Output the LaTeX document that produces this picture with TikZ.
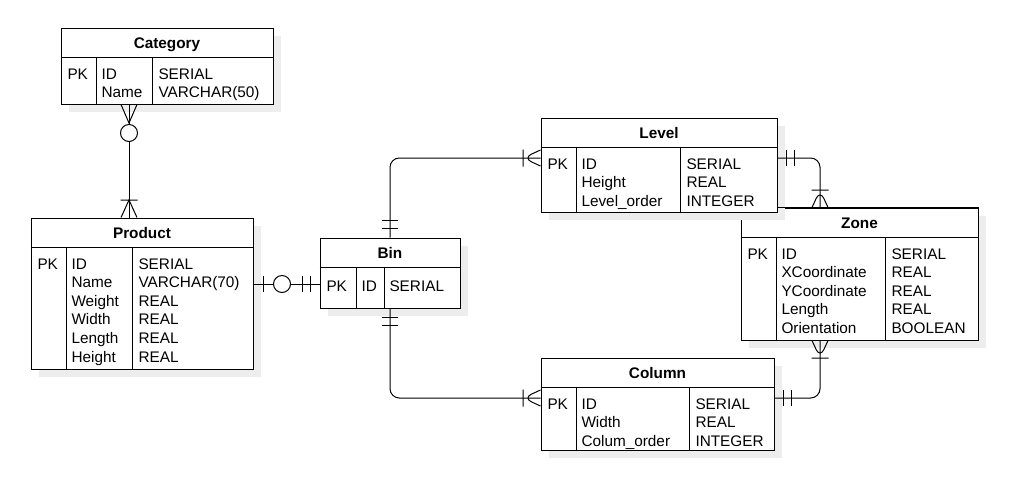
\documentclass[tikz,border=0pt]{standalone}
\usepackage{fontspec}
\setmainfont{Liberation Sans}
\usetikzlibrary{positioning}
\usetikzlibrary{fit}
\usetikzlibrary{shadows}
\usetikzlibrary{decorations.markings}
\tikzstyle{table}=[draw, fill=white, inner sep=0pt, drop shadow={shadow xshift=6pt, shadow yshift=-6pt, fill=black!7, opacity=1}]
\tikzstyle{title}=[font=\fontsize{11.5pt}{14pt}\selectfont\bfseries, anchor=base, inner sep=0pt]
\tikzstyle{field}=[anchor=base west, inner sep=0pt]
\tikzset{
  onlyone/.style 2 args={postaction={decorate, decoration={markings, mark=at position #1 with {
    \draw (#2*9,-8) -- (#2*9,8) (#2*17,-8) -- (#2*17,8);}}}},
  zeroone/.style 2 args={postaction={decorate, decoration={markings, mark=at position #1 with {
    \draw (#2*10,-8) -- (#2*10,8);
    \draw[fill=white] (#2*28.5,0) circle[radius=8.5];}}}},
  onemany/.style 2 args={postaction={decorate, decoration={markings, mark=at position #1 with {
    \draw (0,-8) -- (#2*17.5,0) -- (0,8) (#2*17.5,-8.5) -- (#2*17.5,8.5);}}}},
  zeromany/.style 2 args={postaction={decorate, decoration={markings, mark=at position #1 with {
    \draw (0,-8) -- (#2*18.5,0) -- (0,8);
    \draw[fill=white] (#2*28.5,0) circle[radius=8.5];}}}}
}
\def\rowgap{18.6}

\begin{document}
\begin{tikzpicture}[x=0.75pt, y=-0.75pt, line width=0.75pt, font=\fontsize{11.5pt}{14pt}\selectfont]
\useasboundingbox (0,0) rectangle (1034,497);

% Category
\node (cat) [table, fit={(61,28) (273,104)}] {};
\draw (cat.west |- 0,57) -- (cat.east |- 0,57);
\draw (96,57) -- (cat.south -| 96,0);
\draw (152,57) -- (cat.south -| 152,0);
\node (cat-title) [title] at (167,48.5) {Category};
\node (cat-pk) [field] at (67,79) {PK};
\foreach \nm [count=\i from 0] in {ID,Name}
  \node (cat-name\i) [field] at (101,79+\rowgap*\i) {\nm};
\foreach \ty [count=\i from 0] in {SERIAL,VARCHAR(50)}
  \node (cat-type\i) [field] at (158,79+\rowgap*\i) {\ty};

% Product
\node (prod) [table, fit={(31,218) (253,369)}] {};
\draw (prod.west |- 0,247) -- (prod.east |- 0,247);
\draw (66,247) -- (prod.south -| 66,0);
\draw (132,247) -- (prod.south -| 132,0);
\node (prod-title) [title] at (142,238.5) {Product};
\node (prod-pk) [field] at (37,269) {PK};
\foreach \nm [count=\i from 0] in {ID,Name,Weight,Width,Length,Height}
  \node (prod-name\i) [field] at (71,269+\rowgap*\i) {\nm};
\foreach \ty [count=\i from 0] in {SERIAL,VARCHAR(70),REAL,REAL,REAL,REAL}
  \node (prod-type\i) [field] at (138,269+\rowgap*\i) {\ty};

% Bin
\node (bin) [table, fit={(320,238) (460,308)}] {};
\draw (bin.west |- 0,267) -- (bin.east |- 0,267);
\draw (356,267) -- (bin.south -| 356,0);
\draw (384,267) -- (bin.south -| 384,0);
\node (bin-title) [title] at (390,258.5) {Bin};
\node (bin-pk) [field] at (326,291) {PK};
\node (bin-name0) [field] at (361,291) {ID};
\node (bin-type0) [field] at (389,291) {SERIAL};

% Zone
\node (zone) [table, fit={(741,208) (978,340)}] {};
\draw (zone.west |- 0,237) -- (zone.east |- 0,237);
\draw (776,237) -- (zone.south -| 776,0);
\draw (885,237) -- (zone.south -| 885,0);
\node (zone-title) [title] at (859.5,228.5) {Zone};
\node (zone-pk) [field] at (747,259) {PK};
\foreach \nm [count=\i from 0] in {ID,XCoordinate,YCoordinate,Length,Orientation}
  \node (zone-name\i) [field] at (781,259+\rowgap*\i) {\nm};
\foreach \ty [count=\i from 0] in {SERIAL,REAL,REAL,REAL,BOOLEAN}
  \node (zone-type\i) [field] at (891,259+\rowgap*\i) {\ty};

% Level
\node (lvl) [table, fit={(541,118) (777,212)}] {};
\draw (lvl.west |- 0,147) -- (lvl.east |- 0,147);
\draw (576,147) -- (lvl.south -| 576,0);
\draw (680,147) -- (lvl.south -| 680,0);
\node (lvl-title) [title] at (659,138.5) {Level};
\node (lvl-pk) [field] at (547,169) {PK};
\foreach \nm [count=\i from 0] in {ID,Height,Level\_order}
  \node (lvl-name\i) [field] at (581,169+\rowgap*\i) {\nm};
\foreach \ty [count=\i from 0] in {SERIAL,REAL,INTEGER}
  \node (lvl-type\i) [field] at (686,169+\rowgap*\i) {\ty};
% zone top edge stays over the level shadow
\draw (lvl.east |- zone.north) -- (zone.north east);

% Column
\node (col) [table, fit={(541,358) (774,450)}] {};
\draw (col.west |- 0,387) -- (col.east |- 0,387);
\draw (576,387) -- (col.south -| 576,0);
\draw (689,387) -- (col.south -| 689,0);
\node (col-title) [title] at (657.5,378.5) {Column};
\node (col-pk) [field] at (547,409) {PK};
\foreach \nm [count=\i from 0] in {ID,Width,Colum\_order}
  \node (col-name\i) [field] at (581,409+\rowgap*\i) {\nm};
\foreach \ty [count=\i from 0] in {SERIAL,REAL,INTEGER}
  \node (col-type\i) [field] at (695,409+\rowgap*\i) {\ty};

% relations
\draw [zeromany={0}{1}, onemany={1}{-1}] (cat.south -| 129,0) -- (prod.north -| 129,0);
\draw [zeroone={0}{1}, onlyone={1}{-1}] (prod.east |- 0,284) -- (bin.west |- 0,284);
\draw [rounded corners=7pt, onlyone={0}{1}, onemany={1}{-1}] (bin.north) |- (lvl.west |- 0,158);
\draw [rounded corners=7pt, onlyone={0}{1}, onemany={1}{-1}] (bin.south) |- (col.west |- 0,398);
\draw [rounded corners=7pt, onlyone={0}{1}, onemany={1}{-1}] (lvl.east |- 0,158) -| (zone.north -| 820,0);
\draw [rounded corners=7pt, onlyone={0}{1}, onemany={1}{-1}] (col.east |- 0,398) -| (zone.south -| 820,0);
\end{tikzpicture}
\end{document}
